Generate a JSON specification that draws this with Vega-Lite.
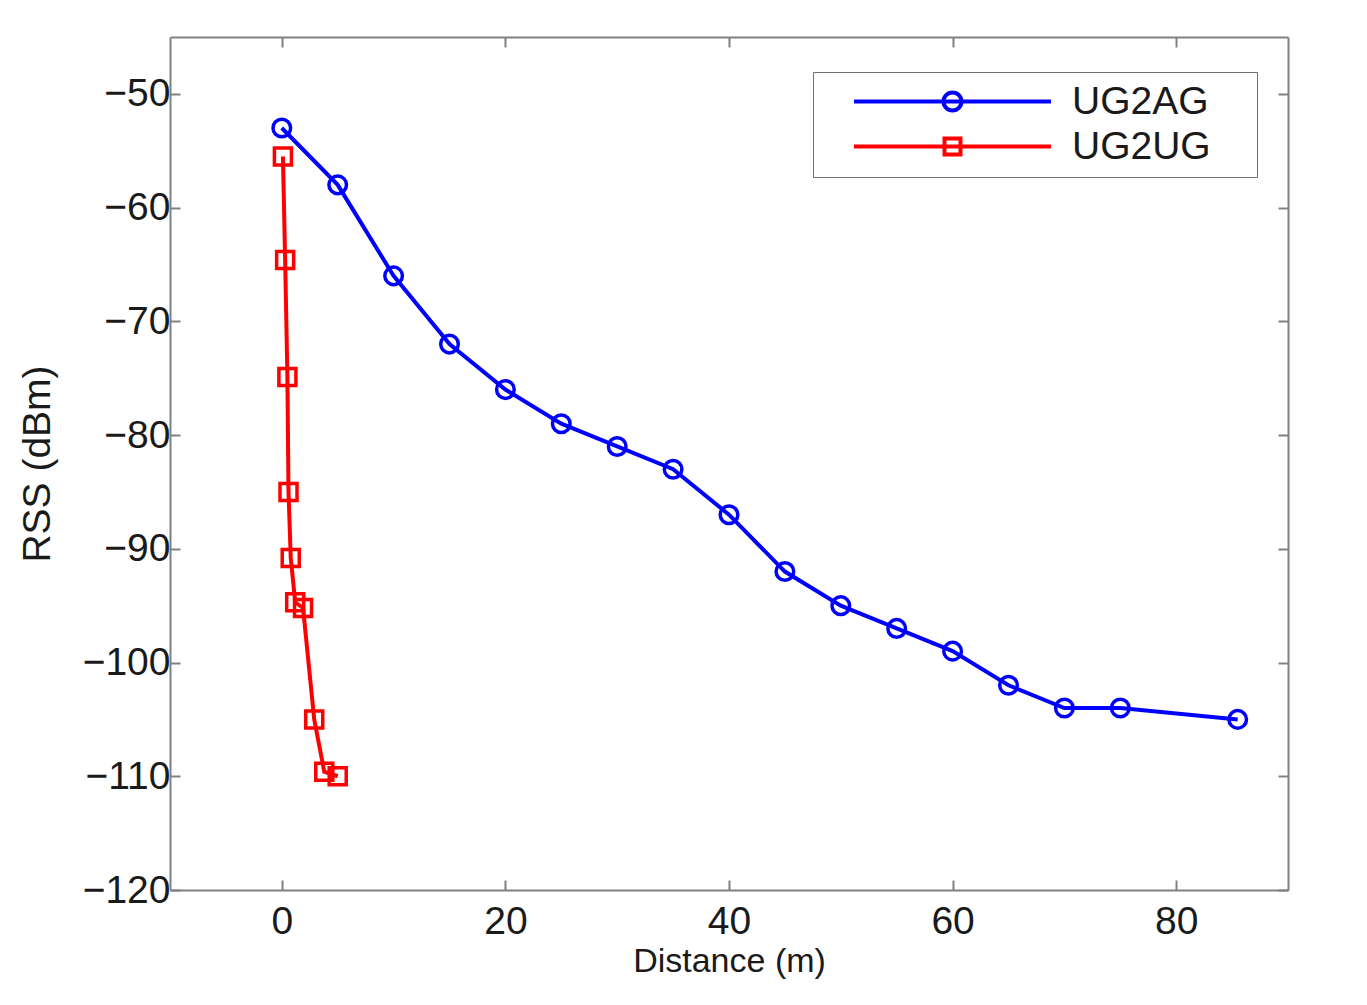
{
  "$schema": "https://vega.github.io/schema/vega-lite/v6.json",
  "width": 1118,
  "height": 853,
  "autosize": "none",
  "padding": {"left": 170, "top": 37, "right": 79, "bottom": 115},
  "background": "white",
  "config": {
    "view": {"stroke": null},
    "font": "Liberation Sans",
    "axis": {
      "grid": false,
      "domainColor": "#808080",
      "domainWidth": 2,
      "tickColor": "#808080",
      "tickWidth": 2,
      "tickSize": -10,
      "labelFont": "Liberation Sans",
      "labelFontSize": 39,
      "labelColor": "#1a1a1a",
      "titleFont": "Liberation Sans",
      "titleFontSize": 34,
      "titleFontWeight": "normal",
      "titleColor": "#1a1a1a"
    }
  },
  "data": {
    "values": [
      {"series": "UG2AG", "x": 0, "y": -53},
      {"series": "UG2AG", "x": 5, "y": -58},
      {"series": "UG2AG", "x": 10, "y": -66},
      {"series": "UG2AG", "x": 15, "y": -72},
      {"series": "UG2AG", "x": 20, "y": -76},
      {"series": "UG2AG", "x": 25, "y": -79},
      {"series": "UG2AG", "x": 30, "y": -81},
      {"series": "UG2AG", "x": 35, "y": -83},
      {"series": "UG2AG", "x": 40, "y": -87},
      {"series": "UG2AG", "x": 45, "y": -92},
      {"series": "UG2AG", "x": 50, "y": -95},
      {"series": "UG2AG", "x": 55, "y": -97},
      {"series": "UG2AG", "x": 60, "y": -99},
      {"series": "UG2AG", "x": 65, "y": -102},
      {"series": "UG2AG", "x": 70, "y": -104},
      {"series": "UG2AG", "x": 75, "y": -104},
      {"series": "UG2AG", "x": 85.5, "y": -105},
      {"series": "UG2UG", "x": 0.1, "y": -55.5},
      {"series": "UG2UG", "x": 0.3, "y": -64.6},
      {"series": "UG2UG", "x": 0.5, "y": -74.9},
      {"series": "UG2UG", "x": 0.6, "y": -85},
      {"series": "UG2UG", "x": 0.8, "y": -90.8},
      {"series": "UG2UG", "x": 1.2, "y": -94.7},
      {"series": "UG2UG", "x": 1.9, "y": -95.2},
      {"series": "UG2UG", "x": 2.9, "y": -105},
      {"series": "UG2UG", "x": 3.8, "y": -109.6},
      {"series": "UG2UG", "x": 5.0, "y": -110}
    ]
  },
  "layer": [
    {
      "mark": {"type": "line", "strokeWidth": 4},
      "encoding": {
        "x": {"field": "x", "type": "quantitative", "scale": {"domain": [-10, 90], "nice": false, "zero": false},
              "axis": {"orient": "bottom", "values": [0, 20, 40, 60, 80], "title": "Distance (m)", "labelPadding": 22, "titlePadding": 3}},
        "y": {"field": "y", "type": "quantitative", "scale": {"domain": [-120, -45], "nice": false, "zero": false},
              "axis": {"orient": "left", "values": [-120, -110, -100, -90, -80, -70, -60, -50], "title": "RSS (dBm)", "titleFontSize": 39, "labelPadding": 10, "titlePadding": 25}},
        "color": {"field": "series", "type": "nominal", "scale": {"domain": ["UG2AG", "UG2UG"], "range": ["#0000ff", "#ff0000"]}},
        "order": {"field": "x", "type": "quantitative"}
      }
    },
    {
      "transform": [{"filter": "datum.series === 'UG2AG'"}],
      "mark": {"type": "point", "shape": "circle", "filled": false, "size": 310, "strokeWidth": 3.5, "opacity": 1},
      "encoding": {
        "x": {"field": "x", "type": "quantitative", "axis": null},
        "y": {"field": "y", "type": "quantitative", "axis": null},
        "color": {"field": "series", "type": "nominal"}
      }
    },
    {
      "transform": [{"filter": "datum.series === 'UG2UG'"}],
      "mark": {"type": "point", "shape": "square", "filled": false, "size": 290, "strokeWidth": 3.5, "opacity": 1},
      "encoding": {
        "x": {"field": "x", "type": "quantitative", "axis": null},
        "y": {"field": "y", "type": "quantitative", "axis": null},
        "color": {"field": "series", "type": "nominal"}
      }
    },
    {
      "mark": {"type": "point", "filled": false, "opacity": 0, "size": 400, "strokeWidth": 4},
      "encoding": {
        "x": {"field": "x", "type": "quantitative", "axis": {"orient": "top", "values": [0, 20, 40, 60, 80], "labels": false, "title": null}},
        "y": {"field": "y", "type": "quantitative", "axis": {"orient": "right", "values": [-120, -110, -100, -90, -80, -70, -60, -50], "labels": false, "title": null}},
        "color": {"field": "series", "type": "nominal"},
        "shape": {
          "field": "series", "type": "nominal",
          "scale": {"domain": ["UG2AG", "UG2UG"], "range": [
            "M-19.7,0H19.7M1.8,0A1.8,1.8 0 1,1 -1.8,0A1.8,1.8 0 1,1 1.8,0ZM57.3,0",
            "M-19.7,0H19.7M-1.6,-1.6H1.6V1.6H-1.6ZM57.3,0"
          ]},
          "legend": {
            "title": null,
            "orient": "none",
            "legendX": 643,
            "legendY": 35,
            "padding": 10,
            "symbolOffset": 110,
            "labelOffset": 100,
            "labelFontSize": 39,
            "labelFont": "Liberation Sans",
            "labelColor": "#1a1a1a",
            "rowPadding": 5,
            "strokeColor": "#707070",
            "fillColor": "white",
            "symbolStrokeWidth": 4,
            "encode": {"symbols": {"update": {"opacity": {"value": 1}}}}
          }
        }
      }
    }
  ],
  "resolve": {"axis": {"x": "independent", "y": "independent"}}
}
